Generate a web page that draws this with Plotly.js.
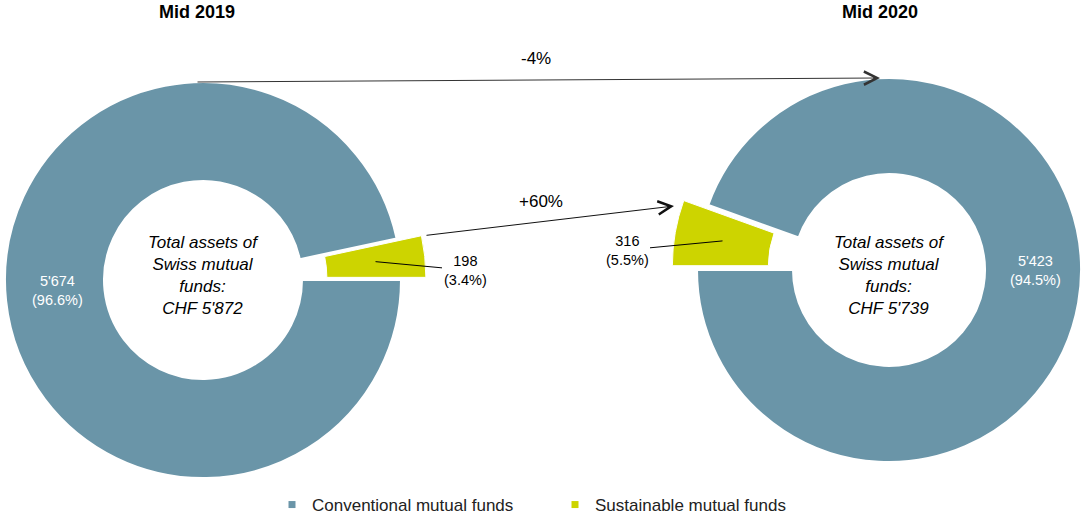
<!DOCTYPE html>
<html><head><meta charset="utf-8">
<script src="https://cdn.plot.ly/plotly-3.0.1.min.js"></script>
<style>html,body{margin:0;padding:0;background:#fff;}#chart{width:1081px;height:519px;}</style>
</head><body><div id="chart"></div>
<script>
// ---- data ----
const periods = ['Mid 2019', 'Mid 2020'];
const categories = ['Sustainable mutual funds', 'Conventional mutual funds'];
const sustainable = [198, 316];
const conventional = [5674, 5423];
const totals = [5872, 5739];
const changeConventional = '-4%';
const changeSustainable = '+60%';
const centerText = ['Total assets of', 'Swiss mutual', 'funds:', 'CHF '];

// ---- styling / geometry ----
const W = 1081, H = 519;
const BLUE = '#6A95A8', GREEN = '#CDD400', CLEAR = 'rgba(0,0,0,0)';
const FONT = 'Liberation Sans, Arial, sans-serif';
const HOLE = 0.5, PULL = 25;
// left donut: conventional first, clockwise from 3 o'clock -> sustainable ends just above 3 o'clock
// right donut: sustainable first, clockwise from 9 o'clock -> sustainable just above 9 o'clock
const geo = [
  {cx: 203, cy: 280, r: 198, rot: 90, sustFirst: false},
  {cx: 889, cy: 270, r: 192, rot: 270, sustFirst: true}
];
const clamp = v => Math.max(0, Math.min(1, v));
const dom = (cx, cy, r) => ({x: [clamp((cx - r) / W), clamp((cx + r) / W)], y: [clamp((H - cy - r) / H), clamp((H - cy + r) / H)]});
const fmt = n => String(n).replace(/\B(?=(\d{3})+(?!\d))/g, "'");
const pct = (v, t) => (v / t * 100).toFixed(1) + '%';
const px = (x, y) => ({x: x / W, y: 1 - y / H});
const note = (x, y, text, size, color) => {
  const p = px(x, y);
  return {xref: 'paper', yref: 'paper', x: p.x, y: p.y, xanchor: 'center', yanchor: 'middle',
    showarrow: false, text: text, font: {family: FONT, size: size, color: color}};
};

const data = [];
const annotations = [];
geo.forEach((g, i) => {
  const frac = sustainable[i] / totals[i];
  const ord = a => g.sustFirst ? a : a.slice().reverse();
  const labels = ord(categories);
  const values = ord([sustainable[i], conventional[i]]);
  // bisector angle of the sustainable slice (deg, counterclockwise from east)
  const a = (i === 0 ? frac * 180 : 180 - frac * 180) * Math.PI / 180;
  const ox = g.cx + PULL * Math.cos(a), oy = g.cy - PULL * Math.sin(a);
  data.push({
    type: 'pie', sort: false, hole: HOLE, direction: 'clockwise', rotation: g.rot,
    labels: labels, values: values,
    marker: {colors: ord([CLEAR, BLUE]), line: {color: '#fff', width: ord([0, 2])}},
    textinfo: 'none', hoverinfo: 'skip', showlegend: false,
    domain: dom(g.cx, g.cy, g.r)
  });
  data.push({
    type: 'pie', sort: false, hole: HOLE, direction: 'clockwise', rotation: g.rot,
    labels: labels, values: values,
    marker: {colors: ord([GREEN, CLEAR]), line: {color: '#fff', width: ord([1, 0])}},
    textinfo: 'none', hoverinfo: 'skip', showlegend: false,
    domain: dom(ox, oy, g.r)
  });
  // leader line from middle of ring on slice bisector to the label
  const rm = g.r * (1 + HOLE) / 2;
  const lx = ox + rm * Math.cos(a), ly = oy - rm * Math.sin(a);
  const lab = i === 0 ? {x: 465, y: 270} : {x: 627, y: 250};
  const p = px(lx, ly);
  annotations.push({
    xref: 'paper', yref: 'paper', x: p.x, y: p.y, ax: lab.x - lx, ay: lab.y - ly,
    text: fmt(sustainable[i]) + '<br>(' + pct(sustainable[i], totals[i]) + ')',
    showarrow: true, arrowhead: 0, arrowwidth: 1, arrowcolor: '#000', standoff: 0,
    font: {family: FONT, size: 14.5, color: '#000'}
  });
  // conventional label
  const cl = i === 0 ? {x: 57, y: 290} : {x: 1035, y: 270};
  annotations.push(note(cl.x, cl.y, fmt(conventional[i]) + '<br>(' + pct(conventional[i], totals[i]) + ')', 14.5, '#fff'));
  // center text
  annotations.push(note(g.cx, 275, '<i>' + centerText.join('<br>') + fmt(totals[i]) + '</i>', 17, '#000'));
  // period title
  annotations.push(note(i === 0 ? 197 : 880, 12, '<b>' + periods[i] + '</b>', 18, '#000'));
});

// change arrows
function arrow(x0, y0, x1, y1, color) {
  const p = px(x1, y1);
  annotations.push({
    xref: 'paper', yref: 'paper', x: p.x, y: p.y, ax: x0 - x1, ay: y0 - y1,
    text: '', showarrow: true, arrowhead: 5, arrowsize: 2.6, arrowwidth: 1,
    arrowcolor: color, standoff: 0, startstandoff: 0
  });
}
arrow(196, 82, 880, 78, '#333');
arrow(425, 235.5, 674, 206, '#111');
annotations.push(note(536, 58, changeConventional, 17, '#000'));
annotations.push(note(541, 201, changeSustainable, 17, '#000'));

// legend entries
data.push({type: 'scatter', x: [null], y: [null], mode: 'markers', name: categories[1], marker: {symbol: 'square', size: 7, color: BLUE}, hoverinfo: 'skip'});
data.push({type: 'scatter', x: [null], y: [null], mode: 'markers', name: categories[0], marker: {symbol: 'square', size: 7, color: GREEN}, hoverinfo: 'skip'});

const layout = {
  width: W, height: H, margin: {l: 0, r: 0, t: 0, b: 0, autoexpand: false},
  paper_bgcolor: '#fff', plot_bgcolor: '#fff', hovermode: false,
  font: {family: FONT, color: '#000'},
  xaxis: {visible: false}, yaxis: {visible: false},
  showlegend: true,
  legend: {orientation: 'h', x: 272 / W, xanchor: 'left', y: 1 - 505 / H, yanchor: 'middle',
    entrywidth: 238, font: {family: FONT, size: 17, color: '#222'}, bgcolor: 'rgba(0,0,0,0)'},
  annotations: annotations
};
Plotly.newPlot('chart', data, layout, {displayModeBar: false, staticPlot: true});
</script></body></html>
